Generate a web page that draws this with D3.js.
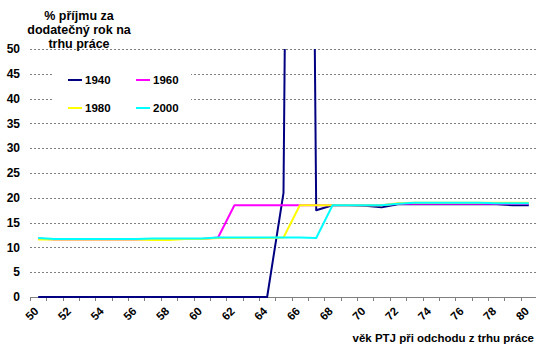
<!DOCTYPE html>
<html><head><meta charset="utf-8">
<script src="https://cdn.jsdelivr.net/npm/d3@7"></script>
<style>
html,body{margin:0;padding:0;background:#fff;}
svg{display:block;font-family:"Liberation Sans",Arial,sans-serif;font-weight:bold;}
</style></head>
<body><svg id="c" width="536" height="344"></svg>
<script>
const ages = d3.range(50, 81);
const s1940 = [0,0,0,0,0,0,0,0,0,0,0,0,0,0,0,21,400,17.5,18.5,18.5,18.4,18.1,18.7,18.7,18.7,18.7,18.7,18.7,18.7,18.5,18.5];
const s1960 = [11.8,11.6,11.6,11.6,11.6,11.6,11.6,11.7,11.7,11.7,11.7,12,18.5,18.5,18.5,18.5,18.5,18.5,18.5,18.5,18.5,18.5,18.8,18.8,18.8,18.8,18.8,18.8,18.8,18.8,18.8];
const s1980 = [11.6,11.6,11.6,11.6,11.6,11.6,11.6,11.5,11.5,11.7,11.7,11.9,11.9,11.9,11.9,12,18.5,18.5,18.5,18.5,18.5,18.5,18.9,19,19,19,19,19,19,19,19];
const s2000 = [11.9,11.7,11.7,11.7,11.7,11.7,11.7,11.8,11.8,11.8,11.8,12,12,12,12,12,12,11.9,18.5,18.5,18.5,18.5,18.8,19,19,19,19,19,18.9,18.9,18.9];
const seriesNames = ["1940","1960","1980","2000"];
const seriesColors = ["#000080","#FF00FF","#FFFF00","#00FFFF"];
const yTicks = d3.range(0, 51, 5);
const xLabels = d3.range(50, 81, 2);
const titleLines = ["% příjmu za","dodatečný rok na","trhu práce"];
const xTitle = "věk PTJ při odchodu z trhu práce";

const svg = d3.select("#c");
const L = 30, R = 537, T = 49, B = 297;
const x = d3.scaleLinear().domain([49.5, 80.5]).range([L, R]);
const y = d3.scaleLinear().domain([0, 50]).range([B, T]);

// gridlines
svg.append("g").selectAll("line").data(yTicks.filter(d => d > 0)).join("line")
  .attr("x1", L).attr("x2", 536).attr("y1", d => Math.round(y(d)) + 0.5).attr("y2", d => Math.round(y(d)) + 0.5)
  .attr("stroke", "#808080").attr("stroke-width", 1).attr("stroke-dasharray", "2,2");

// y labels
svg.append("g").selectAll("text").data(yTicks).join("text")
  .attr("x", 20).attr("y", d => y(d)).attr("dy", "0.35em")
  .attr("text-anchor", "end").attr("font-size", 12).text(d => d);

// x axis line + ticks
const xa = svg.append("g");
xa.append("line").attr("x1", L).attr("x2", 536).attr("y1", B + 0.5).attr("y2", B + 0.5)
  .attr("stroke", "#808080").attr("stroke-width", 1);
xa.selectAll("line.t").data(d3.range(49.5, 80.6, 1)).join("line").attr("class","t")
  .attr("x1", d => Math.round(x(d)) + 0.5).attr("x2", d => Math.round(x(d)) + 0.5)
  .attr("y1", B).attr("y2", B + 4).attr("stroke", "#808080");
xa.selectAll("text").data(xLabels).join("text")
  .attr("transform", d => `translate(${x(d) + 1},${B + 15}) rotate(-45)`)
  .attr("text-anchor", "end").attr("font-size", 11.5).text(d => d);

// clip
svg.append("clipPath").attr("id", "clip").append("rect")
  .attr("x", L).attr("y", T).attr("width", 536 - L).attr("height", B - T + 1);

const line = d3.line().x((d, i) => x(ages[i])).y(d => y(d));
const allSeries = [s1940, s1960, s1980, s2000];
const lg = svg.append("g").attr("clip-path", "url(#clip)");
allSeries.forEach((s, k) => {
  lg.append("path").attr("d", line(s)).attr("fill", "none")
    .attr("stroke", seriesColors[k]).attr("stroke-width", 2).attr("stroke-linejoin", "round");
});

// legend
const leg = svg.append("g");
leg.append("rect").attr("x", 53).attr("y", 56).attr("width", 138).attr("height", 62).attr("fill", "#fff");
const legPos = [[68, 80], [136, 80], [68, 108], [136, 108]];
seriesNames.forEach((n, k) => {
  const [lx, ly] = legPos[k];
  leg.append("line").attr("x1", lx).attr("x2", lx + 14).attr("y1", ly).attr("y2", ly)
    .attr("stroke", seriesColors[k]).attr("stroke-width", 2);
  leg.append("text").attr("x", lx + 17).attr("y", ly).attr("dy", "0.35em")
    .attr("font-size", 11.5).text(n);
});

// titles
svg.append("g").selectAll("text").data(titleLines).join("text")
  .attr("x", 79).attr("y", (d, i) => 20 + i * 14).attr("text-anchor", "middle")
  .attr("font-size", 12.5).text(d => d);
svg.append("text").attr("x", 534).attr("y", 342).attr("text-anchor", "end")
  .attr("font-size", 11.5).text(xTitle);
</script></body></html>
